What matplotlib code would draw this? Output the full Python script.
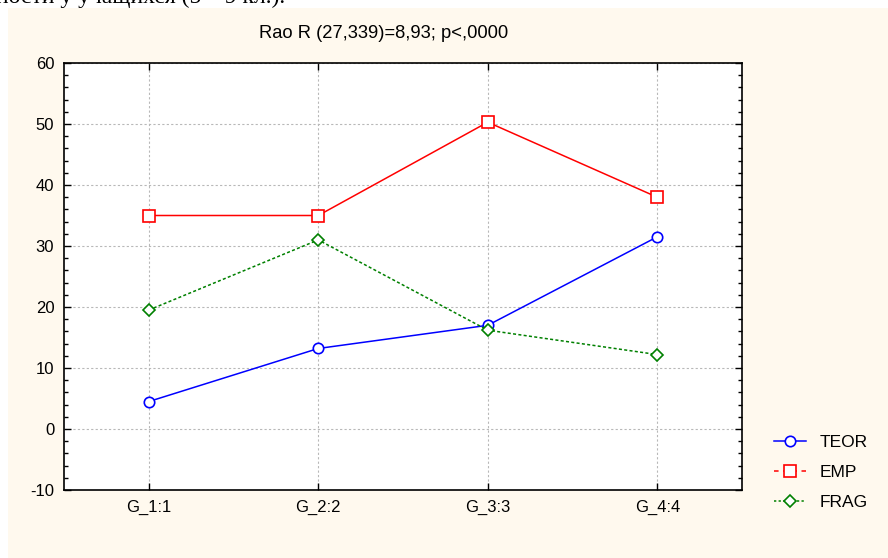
import matplotlib.pyplot as plt
import matplotlib.patches as patches
from matplotlib.lines import Line2D

# ── Data ───────────────────────────────────────────────────────────────────
categories = ["G_1:1", "G_2:2", "G_3:3", "G_4:4"]
teor = [4.5, 13.2, 17.0, 31.5]
emp = [35.0, 35.0, 50.3, 38.0]
frag = [19.5, 31.0, 16.2, 12.2]
title = "Rao R (27,339)=8,93; p<,0000"

W, H = 888, 558
fig = plt.figure(figsize=(W / 100, H / 100), dpi=100, facecolor="white")
plt.rcParams["font.family"] = ["Liberation Sans", "DejaVu Sans"]
plt.rcParams["axes.unicode_minus"] = False

# cream panel behind the graph (scan is offset a few px from the page edge)
fig.patches.append(patches.Rectangle((8 / W, 0), 1 - 8 / W, 1 - 8 / H,
                                     transform=fig.transFigure,
                                     facecolor="#fff9ee", edgecolor="none",
                                     zorder=0))
# cut-off line of document text above the graph (only its lower part shows)
fig.text(-0.005, 1 - 3 / H, "ности у учащихся (5 – 9 кл.).",
         family=["Liberation Serif", "DejaVu Serif"], fontsize=17,
         va="baseline", ha="left", color="black")

ax = fig.add_axes([64 / W, 1 - 490 / H, (742 - 64) / W, (490 - 63) / H])
ax.set_zorder(2)
ax.set_facecolor("white")
x = list(range(len(categories)))

ax.plot(x, teor, color="blue", lw=1.1, marker="o", ms=7.5,
        mfc="white", mec="blue", mew=1.2, zorder=3)
ax.plot(x, emp, color="red", lw=1.1, marker="s", ms=8.5,
        mfc="white", mec="red", mew=1.2, zorder=3)
ax.plot(x, frag, color="green", lw=1.1, ls=(0, (2, 1.5)), marker="D", ms=6,
        mfc="white", mec="green", mew=1.2, zorder=3)

ax.set_xlim(-0.5, 3.5)
ax.set_ylim(-10, 60)
ax.set_xticks(x)
ax.set_xticklabels(categories)
ax.set_yticks(range(-10, 61, 10))
ax.set_yticks(range(-10, 61, 2), minor=True)
ax.tick_params(axis="both", which="both", direction="in", labelsize=12,
               top=True, right=True, color="black")
ax.tick_params(axis="both", which="major", length=5, width=1, pad=7)
ax.tick_params(axis="y", which="minor", length=3, width=1)
ax.tick_params(axis="x", which="minor", length=0)
for s in ax.spines.values():
    s.set_linewidth(1.2)
ax.grid(True, which="major", color="#b8b8b8", ls=(0, (2, 2)), lw=0.8)
ax.set_axisbelow(True)

# title sits a little left of the axes centre in the original
fig.text(384 / W, 1 - 33 / H, title, fontsize=13.2, ha="center", va="center")

handles = [
    Line2D([], [], color="blue", lw=1.1, marker="o", ms=7.5, mfc="white",
           mec="blue", mew=1.2),
    Line2D([], [], color="red", lw=1.1, ls=(0, (3, 3)), marker="s", ms=8.5,
           mfc="white", mec="red", mew=1.2),
    Line2D([], [], color="green", lw=1.1, ls=(0, (1.5, 1.5)), marker="D",
           ms=6, mfc="white", mec="green", mew=1.2),
]
leg = fig.legend(handles, ["TEOR", "EMP", "FRAG"], loc="upper left",
                 bbox_to_anchor=(758 / W, 1 - 419 / H), frameon=False,
                 fontsize=12.5, handlelength=1.85, handletextpad=0.8,
                 labelspacing=0.85)
leg.set_zorder(3)

fig.savefig("out.png", dpi=100, facecolor="white")
